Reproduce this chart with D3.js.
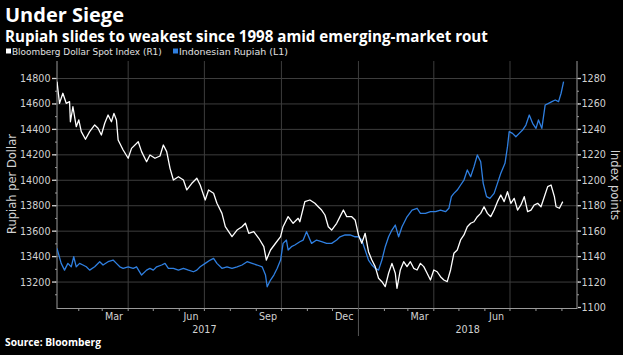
<!DOCTYPE html>
<html><head><meta charset="utf-8">
<script src="https://cdn.jsdelivr.net/npm/d3@7"></script>
<style>html,body{margin:0;padding:0;background:#000;}svg{display:block;}</style>
</head><body>
<svg id="chart" width="623" height="355"></svg>
<script>
// ---------- DATA ----------
const title = "Under Siege";
const subtitle = "Rupiah slides to weakest since 1998 amid emerging-market rout";
const seriesNames = ["Bloomberg Dollar Spot Index (R1)", "Indonesian Rupiah (L1)"];
const leftTicks = [13200, 13400, 13600, 13800, 14000, 14200, 14400, 14600, 14800];
const rightTicks = [1100, 1120, 1140, 1160, 1180, 1200, 1220, 1240, 1260, 1280];
const monthLabels = ["Mar", "Jun", "Sep", "Dec"];
const yearLabels = ["2017", "2018"];

const bbdxyDates = ["2017-01-06","2017-01-09","2017-01-13","2017-01-17","2017-01-21","2017-01-22","2017-01-25","2017-01-29","2017-02-01","2017-02-04","2017-02-09","2017-02-14","2017-02-20","2017-02-24","2017-02-28","2017-03-04","2017-03-08","2017-03-12","2017-03-15","2017-03-18","2017-03-20","2017-03-26","2017-04-01","2017-04-05","2017-04-13","2017-04-17","2017-04-23","2017-04-27","2017-05-03","2017-05-09","2017-05-13","2017-05-17","2017-05-21","2017-05-25","2017-05-31","2017-06-06","2017-06-10","2017-06-16","2017-06-22","2017-06-26","2017-07-02","2017-07-06","2017-07-12","2017-07-16","2017-07-22","2017-07-26","2017-08-03","2017-08-09","2017-08-15","2017-08-19","2017-08-23","2017-08-29","2017-09-04","2017-09-10","2017-09-13","2017-09-18","2017-09-24","2017-09-30","2017-10-03","2017-10-09","2017-10-15","2017-10-21","2017-10-23","2017-10-29","2017-11-04","2017-11-10","2017-11-14","2017-11-18","2017-11-22","2017-11-26","2017-11-30","2017-12-06","2017-12-10","2017-12-14","2017-12-18","2017-12-24","2017-12-28","2018-01-01","2018-01-05","2018-01-09","2018-01-13","2018-01-17","2018-01-21","2018-01-25","2018-01-29","2018-02-02","2018-02-06","2018-02-10","2018-02-14","2018-02-16","2018-02-20","2018-02-24","2018-02-28","2018-03-04","2018-03-08","2018-03-12","2018-03-16","2018-03-20","2018-03-24","2018-03-28","2018-04-01","2018-04-05","2018-04-09","2018-04-13","2018-04-17","2018-04-21","2018-04-25","2018-04-29","2018-05-03","2018-05-07","2018-05-11","2018-05-15","2018-05-19","2018-05-23","2018-05-27","2018-05-31","2018-06-04","2018-06-08","2018-06-12","2018-06-16","2018-06-20","2018-06-24","2018-06-28","2018-07-02","2018-07-06","2018-07-10","2018-07-14","2018-07-18","2018-07-22","2018-07-26","2018-07-30","2018-08-03","2018-08-07","2018-08-11","2018-08-15","2018-08-19","2018-08-23","2018-08-25","2018-08-29","2018-09-02"];
const bbdxyValues = [1277.5,1260.5,1268.4,1260.5,1261.8,1246,1257.8,1242.1,1247.4,1238.2,1232.2,1238.2,1243.5,1240.9,1235.6,1244.8,1251.3,1246,1252.6,1247.4,1231.7,1223.8,1217.3,1225.1,1230.3,1222.5,1214.6,1219.9,1217.3,1219.1,1227.7,1222.5,1209.4,1200.2,1202.8,1200.2,1192.4,1197.6,1201.6,1196.3,1184.5,1192.4,1189.8,1181.9,1174,1163.5,1155.7,1160.9,1163.5,1166.2,1158.3,1159.6,1154.4,1147.8,1137.3,1145.2,1150.5,1155.7,1163.5,1171.4,1166.2,1170.1,1167.4,1183.2,1184.5,1181.9,1179.2,1176.6,1172.7,1163.5,1160.9,1166.2,1171.4,1176.6,1171.4,1171.4,1168.8,1157,1150.5,1158.3,1143.9,1137.3,1132.1,1123,1120.3,1116.4,1126.9,1134.7,1126.9,1115.1,1129.5,1136,1132.1,1136,1130.8,1129.5,1134.7,1132.1,1126.9,1121.6,1129.5,1128.1,1124.2,1121.6,1120.3,1129.5,1142.6,1145.2,1153.1,1157,1163.5,1166.2,1167.4,1171.4,1174,1179.2,1174,1171.4,1176.6,1183.2,1188.4,1183.2,1191,1181.9,1185.8,1176.6,1180.6,1187.1,1175.3,1176.6,1180.6,1181.9,1179.2,1187.1,1195,1196.3,1187.1,1179.2,1178,1183.2];

const idrDates = ["2017-01-06","2017-01-11","2017-01-15","2017-01-19","2017-01-23","2017-01-26","2017-01-29","2017-02-02","2017-02-06","2017-02-10","2017-02-14","2017-02-20","2017-02-26","2017-03-02","2017-03-08","2017-03-14","2017-03-18","2017-03-22","2017-03-26","2017-04-01","2017-04-07","2017-04-11","2017-04-17","2017-04-23","2017-04-27","2017-05-01","2017-05-05","2017-05-11","2017-05-15","2017-05-19","2017-05-25","2017-05-31","2017-06-06","2017-06-12","2017-06-18","2017-06-22","2017-06-26","2017-07-02","2017-07-08","2017-07-12","2017-07-16","2017-07-22","2017-07-28","2017-08-03","2017-08-09","2017-08-15","2017-08-21","2017-08-27","2017-09-02","2017-09-08","2017-09-12","2017-09-14","2017-09-18","2017-09-22","2017-09-26","2017-09-30","2017-10-03","2017-10-07","2017-10-09","2017-10-13","2017-10-17","2017-10-23","2017-10-27","2017-10-31","2017-11-06","2017-11-12","2017-11-18","2017-11-24","2017-11-30","2017-12-06","2017-12-10","2017-12-16","2017-12-22","2017-12-28","2018-01-01","2018-01-05","2018-01-09","2018-01-13","2018-01-17","2018-01-21","2018-01-25","2018-01-29","2018-02-02","2018-02-06","2018-02-10","2018-02-14","2018-02-18","2018-02-22","2018-02-28","2018-03-06","2018-03-12","2018-03-16","2018-03-22","2018-03-28","2018-04-03","2018-04-09","2018-04-15","2018-04-19","2018-04-22","2018-04-25","2018-04-29","2018-05-03","2018-05-07","2018-05-11","2018-05-15","2018-05-19","2018-05-23","2018-05-27","2018-05-30","2018-06-03","2018-06-07","2018-06-12","2018-06-16","2018-06-20","2018-06-25","2018-06-28","2018-06-30","2018-07-04","2018-07-08","2018-07-12","2018-07-16","2018-07-20","2018-07-24","2018-07-28","2018-08-01","2018-08-04","2018-08-08","2018-08-12","2018-08-16","2018-08-20","2018-08-24","2018-08-28","2018-08-31","2018-09-03"];
const idrValues = [13465,13347,13294,13347,13320,13399,13320,13347,13334,13320,13294,13320,13360,13334,13360,13373,13347,13320,13308,13320,13308,13320,13255,13294,13308,13294,13320,13334,13347,13308,13308,13294,13308,13294,13281,13294,13320,13347,13373,13386,13347,13308,13320,13308,13320,13334,13360,13347,13334,13320,13255,13163,13216,13255,13308,13373,13504,13530,13452,13478,13491,13517,13530,13596,13504,13530,13517,13504,13504,13530,13556,13570,13570,13556,13556,13530,13452,13373,13334,13308,13294,13373,13478,13556,13609,13648,13556,13635,13713,13766,13780,13740,13740,13753,13753,13766,13753,13780,13871,13897,13923,13963,14002,14081,14028,14107,14199,14146,13976,13871,13858,13897,13976,14055,14133,14264,14382,14369,14342,14369,14395,14434,14513,14448,14408,14474,14408,14592,14605,14618,14631,14618,14684,14775];

// ---------- LAYOUT ----------
const W = 623, H = 355;
const L = 57, R = 577, T = 61, B = 308;
const parse = d3.timeParse("%Y-%m-%d");
const white = "#ffffff", blue = "#2f7fe0";
const tickColor = "#d2d2d2", gridColor = "#3d3d3d", axisColor = "#9a9a9a";
const font = "'DejaVu Sans', sans-serif";

const svg = d3.select("#chart");
svg.append("rect").attr("width", W).attr("height", H).attr("fill", "#000");

const x = d3.scaleTime().domain([parse("2017-01-06"), parse("2018-09-19")]).range([L, R]);
const yL = d3.scaleLinear().domain([13000, 14800]).range([307.5, 78.5]);
const yR = d3.scaleLinear().domain([1100, 1280]).range([307.5, 78.5]);

function fitText(sel, target) {
  const w = sel.node().getComputedTextLength();
  const fs = parseFloat(sel.attr("font-size"));
  sel.attr("font-size", (fs * target / w).toFixed(2));
}

// Titles
fitText(svg.append("text").attr("x", 5).attr("y", 22).attr("fill", "#fff")
  .attr("font-family", "'Open Sans', sans-serif").attr("font-weight", "bold").attr("font-size", 20).text(title), 119);
fitText(svg.append("text").attr("x", 5).attr("y", 41.5).attr("fill", "#fff")
  .attr("font-family", "'Open Sans', sans-serif").attr("font-weight", "bold").attr("font-size", 14).text(subtitle), 483);

// Legend
const legendX = [6, 173];
const legendW = [150, 109];
[white, blue].forEach((c, i) => {
  svg.append("rect").attr("x", legendX[i]).attr("y", 48.5).attr("width", 5).attr("height", 5).attr("fill", c);
  fitText(svg.append("text").attr("x", legendX[i] + 6).attr("y", 54.5).attr("fill", "#e0e0e0")
    .attr("font-family", font).attr("font-size", 9).text(seriesNames[i]), legendW[i]);
});

// Grid
const g = svg.append("g");
g.selectAll(".hg").data(leftTicks).join("line")
  .attr("x1", L).attr("x2", R).attr("y1", d => yL(d)).attr("y2", d => yL(d))
  .attr("stroke", gridColor).attr("stroke-width", 1);
const quarterStarts = d3.timeMonth.every(3).range(x.domain()[0], x.domain()[1]);
g.selectAll(".vg").data(quarterStarts).join("line")
  .attr("x1", d => x(d)).attr("x2", d => x(d)).attr("y1", T).attr("y2", B)
  .attr("stroke", gridColor).attr("stroke-width", 1);

// Axes lines
svg.append("line").attr("x1", L).attr("x2", L).attr("y1", T).attr("y2", B + 1).attr("stroke", axisColor);
svg.append("line").attr("x1", R).attr("x2", R).attr("y1", T).attr("y2", B + 1).attr("stroke", axisColor);
svg.append("line").attr("x1", L).attr("x2", R).attr("y1", B + 0.5).attr("y2", B + 0.5).attr("stroke", axisColor);

// Left ticks
const minorL = d3.range(13100, 14900, 100);
svg.selectAll(".lmt").data(minorL).join("line")
  .attr("x1", L - 2).attr("x2", L).attr("y1", d => yL(d)).attr("y2", d => yL(d)).attr("stroke", axisColor);
svg.selectAll(".lt").data(leftTicks).join("line")
  .attr("x1", L - 5).attr("x2", L - 1).attr("y1", d => yL(d)).attr("y2", d => yL(d)).attr("stroke", tickColor).attr("stroke-width", 1.3);
svg.selectAll(".ll").data(leftTicks).join("text")
  .attr("x", L - 6.5).attr("y", d => yL(d) + 3.5).attr("text-anchor", "end")
  .attr("fill", tickColor).attr("font-family", font).attr("font-size", 9.6).text(d => d);

// Right ticks
const minorR = d3.range(1110, 1290, 10);
svg.selectAll(".rmt").data(minorR).join("line")
  .attr("x1", R).attr("x2", R + 2).attr("y1", d => yR(d)).attr("y2", d => yR(d)).attr("stroke", axisColor);
svg.selectAll(".rt").data(rightTicks).join("line")
  .attr("x1", R + 1).attr("x2", R + 4).attr("y1", d => yR(d)).attr("y2", d => yR(d)).attr("stroke", tickColor).attr("stroke-width", 1.3);
svg.selectAll(".rl").data(rightTicks).join("text")
  .attr("x", R + 4.5).attr("y", d => yR(d) + 3.5).attr("text-anchor", "start")
  .attr("fill", tickColor).attr("font-family", font).attr("font-size", 9.6).text(d => d);

// Axis titles
svg.append("text").attr("transform", "translate(16,184) rotate(-90)").attr("text-anchor", "middle")
  .attr("fill", tickColor).attr("font-family", font).attr("font-size", 11.5).text("Rupiah per Dollar");
svg.append("text").attr("transform", "translate(611,185) rotate(90)").attr("text-anchor", "middle")
  .attr("fill", tickColor).attr("font-family", font).attr("font-size", 11.5).text("Index points");

// X axis ticks
const months = d3.timeMonth.range(d3.timeMonth.ceil(x.domain()[0]), x.domain()[1]);
svg.selectAll(".xt").data(months).join("line")
  .attr("x1", d => x(d)).attr("x2", d => x(d)).attr("y1", B).attr("y2", B + 3)
  .attr("stroke", axisColor);
const fmtMon = d3.timeFormat("%b");
// label only months that lie fully inside the axis domain
const labelMonths = months.filter(d => monthLabels.includes(fmtMon(d)) && d3.timeMonth.offset(d, 1) <= x.domain()[1]);
svg.selectAll(".xl").data(labelMonths).join("text")
  .attr("x", d => x(d3.timeDay.offset(d, 14))).attr("y", 319.5).attr("text-anchor", "middle")
  .attr("fill", tickColor).attr("font-family", font).attr("font-size", 9.6).text(d => fmtMon(d));
// Year labels and separator
const yearStart2018 = parse("2018-01-01");
svg.append("line").attr("x1", x(yearStart2018)).attr("x2", x(yearStart2018)).attr("y1", B).attr("y2", 336)
  .attr("stroke", "#555");
const yearCenters = [x(parse("2017-07-01")), (x(yearStart2018) + R) / 2];
svg.selectAll(".yl").data(yearLabels).join("text")
  .attr("x", (d, i) => yearCenters[i]).attr("y", 333).attr("text-anchor", "middle")
  .attr("fill", tickColor).attr("font-family", font).attr("font-size", 9.6).text(d => d);

// Lines
svg.append("clipPath").attr("id", "clip").append("rect").attr("x", L).attr("y", T).attr("width", R - L).attr("height", B - T);
const usd = bbdxyDates.map((d, i) => [parse(d), bbdxyValues[i]]);
const idr = idrDates.map((d, i) => [parse(d), idrValues[i]]);
const plot = svg.append("g").attr("clip-path", "url(#clip)");
plot.append("path").datum(idr).attr("fill", "none").attr("stroke", blue).attr("stroke-width", 1.3)
  .attr("stroke-linejoin", "round").attr("d", d3.line().x(d => x(d[0])).y(d => yL(d[1])));
plot.append("path").datum(usd).attr("fill", "none").attr("stroke", white).attr("stroke-width", 1.3)
  .attr("stroke-linejoin", "round").attr("d", d3.line().x(d => x(d[0])).y(d => yR(d[1])));

// Source
fitText(svg.append("text").attr("x", 5).attr("y", 346).attr("fill", "#fff")
  .attr("font-family", "'Open Sans', sans-serif").attr("font-weight", "bold").attr("font-size", 10).text("Source: Bloomberg"), 96);
</script>
</body></html>
